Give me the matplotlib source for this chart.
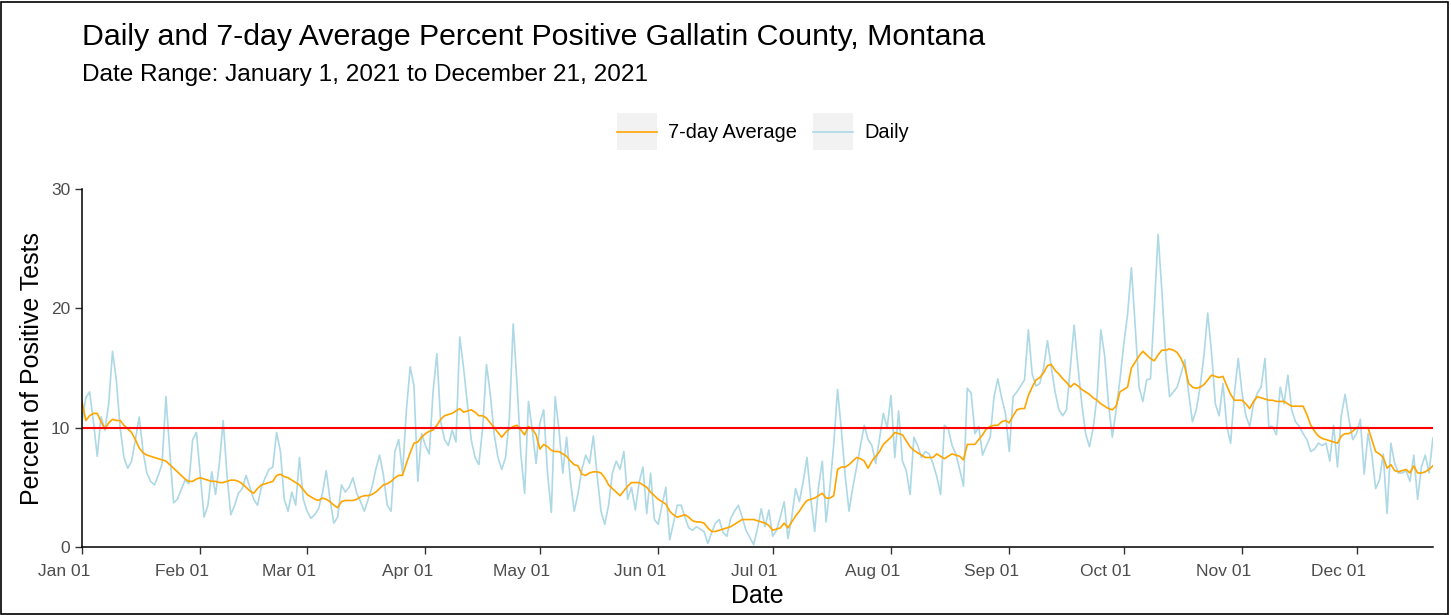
import numpy as np
import pandas as pd
import matplotlib
matplotlib.use("Agg")
import matplotlib.pyplot as plt
import matplotlib.dates as mdates
import matplotlib.transforms as mtransforms
from matplotlib.legend_handler import HandlerLine2D
from matplotlib.patches import Rectangle
from matplotlib.lines import Line2D

plt.rcParams['font.family'] = ['Liberation Sans', 'DejaVu Sans']

# Daily percent positive, Jan 1 - Dec 21 2021
daily_jan = [10.5, 12.5, 13.0, 10.5, 7.6, 10.9, 9.8, 12.0, 16.4, 14.0, 10.0, 7.5, 6.6, 7.2, 9.0, 10.9,
             8.0, 6.2, 5.5, 5.2, 6.0, 7.0, 12.6, 8.0, 3.7, 4.0, 4.8, 5.6, 5.3, 9.0, 9.6]
daily_feb = [6.0, 2.5, 3.5, 6.3, 4.4, 7.0, 10.6, 6.0, 2.7, 3.5, 4.5, 4.9, 6.0, 5.0, 4.0, 3.5,
             5.0, 5.8, 6.5, 6.7, 9.6, 8.0, 4.0, 3.0, 4.6, 3.5, 7.5, 4.0]
daily_mar = [3.0, 2.4, 2.7, 3.2, 4.5, 6.4, 4.0, 2.0, 2.5, 5.2, 4.6, 5.0, 5.8, 4.5, 3.8, 3.0,
             4.0, 5.0, 6.5, 7.7, 6.0, 3.5, 3.0, 8.0, 9.0, 6.2, 11.4, 15.1, 13.5, 5.5, 9.5]
daily_apr = [8.5, 7.8, 13.0, 16.2, 10.5, 9.0, 8.5, 9.8, 8.8, 17.6, 15.0, 12.0, 9.0, 7.5, 6.9,
             10.0, 15.3, 12.8, 9.5, 7.5, 6.5, 7.5, 10.8, 18.7, 13.7, 7.8, 4.5, 12.2, 9.8, 7.0]
daily_may = [10.4, 11.5, 6.2, 2.9, 12.6, 9.8, 6.2, 9.2, 5.5, 3.0, 4.5, 6.5, 7.7, 7.0, 9.3, 6.0,
             3.0, 1.9, 3.5, 6.2, 7.2, 6.5, 8.0, 4.0, 5.0, 3.1, 5.4, 6.7, 2.8, 6.2, 2.3]
daily_jun = [1.9, 3.5, 5.0, 0.6, 2.0, 3.5, 3.5, 2.5, 1.6, 1.4, 1.7, 1.5, 1.3, 0.3, 1.2,
             2.0, 2.3, 1.2, 0.9, 2.4, 3.0, 3.5, 2.5, 1.4, 0.8, 0.2, 1.5, 3.2, 1.7, 3.1]
daily_jul = [0.9, 1.4, 2.5, 3.8, 0.7, 2.5, 4.9, 3.8, 5.5, 7.5, 4.0, 1.3, 5.0, 7.2, 2.1, 5.0,
             8.6, 13.2, 9.8, 6.0, 3.0, 5.0, 6.7, 8.5, 10.2, 9.0, 8.5, 7.0, 9.1, 11.2, 10.0]
daily_aug = [12.7, 7.5, 11.4, 7.2, 6.4, 4.4, 9.2, 8.5, 7.5, 8.0, 7.8, 7.0, 5.9, 4.4, 10.2, 9.9,
             8.5, 7.8, 6.5, 5.1, 13.3, 12.9, 9.5, 10.1, 7.7, 8.5, 9.2, 12.6, 14.1, 12.5, 11.2]
daily_sep = [8.0, 12.6, 13.0, 13.5, 14.0, 18.2, 14.5, 13.5, 13.7, 15.0, 17.3, 15.1, 13.0, 11.5, 11.0,
             11.5, 15.0, 18.6, 15.1, 12.0, 9.5, 8.4, 10.0, 12.6, 18.2, 16.0, 12.0, 9.2, 11.5, 14.0]
daily_oct = [17.0, 19.5, 23.4, 18.5, 13.4, 12.2, 14.0, 14.1, 20.0, 26.2, 21.4, 16.0, 12.6, 13.0, 13.4, 14.5,
             15.7, 12.9, 10.5, 11.5, 13.4, 16.0, 19.6, 16.3, 12.0, 11.0, 13.7, 10.1, 8.7, 12.9, 15.8]
daily_nov = [12.9, 11.0, 10.1, 12.0, 12.9, 13.4, 15.8, 10.1, 10.1, 9.4, 13.4, 12.0, 14.4, 11.5, 10.5,
             10.1, 9.5, 9.0, 8.0, 8.2, 8.7, 8.5, 8.7, 7.2, 10.2, 6.7, 11.0, 12.8, 10.7, 9.0]
daily_dec = [9.5, 10.7, 6.1, 9.5, 7.8, 4.9, 5.6, 7.8, 2.8, 8.7, 7.0, 6.2, 6.2, 6.4, 5.5, 7.7,
             4.0, 6.7, 7.7, 6.2, 9.1]

# 7-day average
avg_jan = [12.2, 10.6, 11.0, 11.2, 11.2, 10.5, 9.9, 10.4, 10.7, 10.6, 10.6, 10.2, 9.9, 9.6, 9.0, 8.3,
           7.9, 7.7, 7.6, 7.5, 7.4, 7.3, 7.2, 6.9, 6.6, 6.3, 6.0, 5.7, 5.5, 5.5, 5.7]
avg_feb = [5.8, 5.7, 5.6, 5.5, 5.5, 5.4, 5.4, 5.5, 5.6, 5.6, 5.5, 5.3, 5.0, 4.7, 4.5, 4.9,
           5.2, 5.3, 5.4, 5.5, 6.0, 6.1, 5.9, 5.8, 5.6, 5.4, 5.2, 4.8]
avg_mar = [4.4, 4.2, 4.0, 3.9, 4.1, 4.0, 3.8, 3.5, 3.3, 3.8, 3.9, 3.9, 3.9, 4.0, 4.2, 4.3,
           4.3, 4.4, 4.6, 4.9, 5.2, 5.3, 5.5, 5.8, 6.0, 6.0, 7.0, 7.9, 8.7, 8.8, 9.2]
avg_apr = [9.5, 9.7, 9.8, 10.2, 10.7, 11.0, 11.1, 11.2, 11.4, 11.6, 11.3, 11.4, 11.5, 11.3, 11.0,
           11.0, 10.8, 10.4, 10.0, 9.6, 9.2, 9.6, 9.9, 10.1, 10.2, 9.8, 9.4, 10.1, 9.9, 9.4]
avg_may = [8.2, 8.6, 8.4, 8.1, 8.0, 8.0, 7.8, 7.6, 7.2, 6.9, 6.8, 6.1, 6.0, 6.2, 6.3, 6.3,
           6.2, 5.8, 5.2, 4.9, 4.6, 4.3, 4.7, 5.1, 5.4, 5.4, 5.4, 5.2, 5.0, 4.6, 4.3]
avg_jun = [4.0, 3.8, 3.6, 3.0, 2.7, 2.5, 2.6, 2.7, 2.5, 2.2, 2.1, 2.1, 2.0, 1.6, 1.3,
           1.3, 1.4, 1.5, 1.6, 1.7, 1.9, 2.1, 2.3, 2.3, 2.3, 2.3, 2.2, 2.1, 2.0, 1.8]
avg_jul = [1.4, 1.5, 1.6, 2.0, 1.6, 2.1, 2.6, 3.0, 3.5, 3.9, 4.0, 4.1, 4.3, 4.5, 4.1, 4.1,
           4.3, 6.5, 6.7, 6.7, 6.9, 7.2, 7.5, 7.4, 7.2, 6.6, 7.2, 7.6, 8.0, 8.6, 8.9]
avg_aug = [9.2, 9.6, 9.5, 9.4, 8.9, 8.4, 8.1, 7.9, 7.7, 7.5, 7.5, 7.5, 7.8, 7.6, 7.4, 7.6,
           7.8, 7.7, 7.6, 7.3, 8.6, 8.6, 8.6, 9.0, 9.4, 9.9, 10.1, 10.2, 10.2, 10.5, 10.6]
avg_sep = [10.4, 11.0, 11.5, 11.6, 11.6, 12.7, 13.4, 14.0, 14.2, 14.6, 15.2, 15.3, 14.8, 14.5, 14.1,
           13.8, 13.4, 13.7, 13.5, 13.2, 13.0, 12.8, 12.5, 12.3, 12.0, 11.8, 11.6, 11.5, 11.8, 13.0]
avg_oct = [13.2, 13.4, 15.0, 15.5, 16.0, 16.4, 16.1, 15.8, 15.6, 16.1, 16.5, 16.5, 16.6, 16.5, 16.3, 15.8,
           15.1, 13.7, 13.4, 13.3, 13.4, 13.6, 14.0, 14.4, 14.3, 14.2, 14.3, 13.5, 12.8, 12.3, 12.3]
avg_nov = [12.3, 12.0, 11.6, 12.2, 12.6, 12.5, 12.4, 12.3, 12.3, 12.2, 12.2, 12.2, 12.0, 11.8, 11.8,
           11.8, 11.8, 11.1, 10.2, 9.7, 9.3, 9.1, 9.0, 8.9, 8.8, 8.7, 9.3, 9.5, 9.5, 9.7]
avg_dec = [10.0, 10.0, 10.0, 10.0, 9.0, 8.0, 7.8, 7.5, 6.6, 6.9, 6.4, 6.3, 6.4, 6.5, 6.2, 6.8,
           6.2, 6.2, 6.3, 6.5, 6.8]

daily = (daily_jan + daily_feb + daily_mar + daily_apr + daily_may + daily_jun +
         daily_jul + daily_aug + daily_sep + daily_oct + daily_nov + daily_dec)
avg7 = (avg_jan + avg_feb + avg_mar + avg_apr + avg_may + avg_jun +
        avg_jul + avg_aug + avg_sep + avg_oct + avg_nov + avg_dec)
dates = pd.date_range("2021-01-01", "2021-12-21", freq="D")

threshold = 10


class KeyHandler(HandlerLine2D):
    # ggplot-style grey key box behind the line
    def create_artists(self, legend, orig_handle, xdescent, ydescent, width, height, fontsize, trans):
        arts = super().create_artists(legend, orig_handle, xdescent, ydescent, width, height, fontsize, trans)
        box = Rectangle((-xdescent, -ydescent - height * 0.85), width, height * 2.7,
                        facecolor="#F2F2F2", edgecolor="none", transform=trans)
        return [box] + arts


fig = plt.figure(figsize=(14.51, 6.15), dpi=100)
ax = fig.add_axes([0.0565, 0.1106, 0.931, 0.582])

ax.plot(dates, daily, color="lightblue", lw=1.2, label="Daily")
ax.plot(dates, avg7, color="orange", lw=1.2, label="7-day Average")
ax.axhline(threshold, color="red", lw=1.5)

ax.set_xlim(dates[0], dates[-1])
ax.set_ylim(0, 30)
ax.set_yticks([0, 10, 20, 30])
ax.xaxis.set_major_locator(mdates.MonthLocator(bymonthday=1))
ax.xaxis.set_major_formatter(mdates.DateFormatter("%b %d"))
ax.tick_params(colors="#4D4D4D", labelsize=12.5, length=5, width=1)
ax.tick_params(axis="both", color="#333333")
ax.tick_params(axis="x", pad=7)
# labels in the original sit a bit left of their ticks
shift = mtransforms.ScaledTranslation(-18 / 100, 0, fig.dpi_scale_trans)
for lab in ax.get_xticklabels():
    lab.set_transform(lab.get_transform() + shift)
for s in ["top", "right"]:
    ax.spines[s].set_visible(False)
for s in ["left", "bottom"]:
    ax.spines[s].set_linewidth(1.1)
ax.set_xlabel("Date", fontsize=18, labelpad=4)
ax.set_ylabel("Percent of Positive Tests", fontsize=18, labelpad=5)

fig.text(82 / 1451, 1 - 37 / 615, "Daily and 7-day Average Percent Positive Gallatin County, Montana",
         fontsize=21.8, va="center", ha="left")
fig.text(82 / 1451, 1 - 75 / 615, "Date Range: January 1, 2021 to December 21, 2021",
         fontsize=17.6, va="center", ha="left")

handles = [Line2D([], [], color="orange", lw=1.2), Line2D([], [], color="lightblue", lw=1.2)]
fig.legend(handles, ["7-day Average", "Daily"], loc="center", bbox_to_anchor=(763 / 1451, 1 - 133 / 615),
           ncol=2, frameon=False, fontsize=14.4, handlelength=2.0, handletextpad=0.55, columnspacing=0.8,
           handler_map={Line2D: KeyHandler()})

fig.patches.append(Rectangle((0.001, 0.002), 0.997, 0.995, transform=fig.transFigure,
                             fill=False, edgecolor="black", lw=1.2))

fig.savefig("out.png", dpi=100)
